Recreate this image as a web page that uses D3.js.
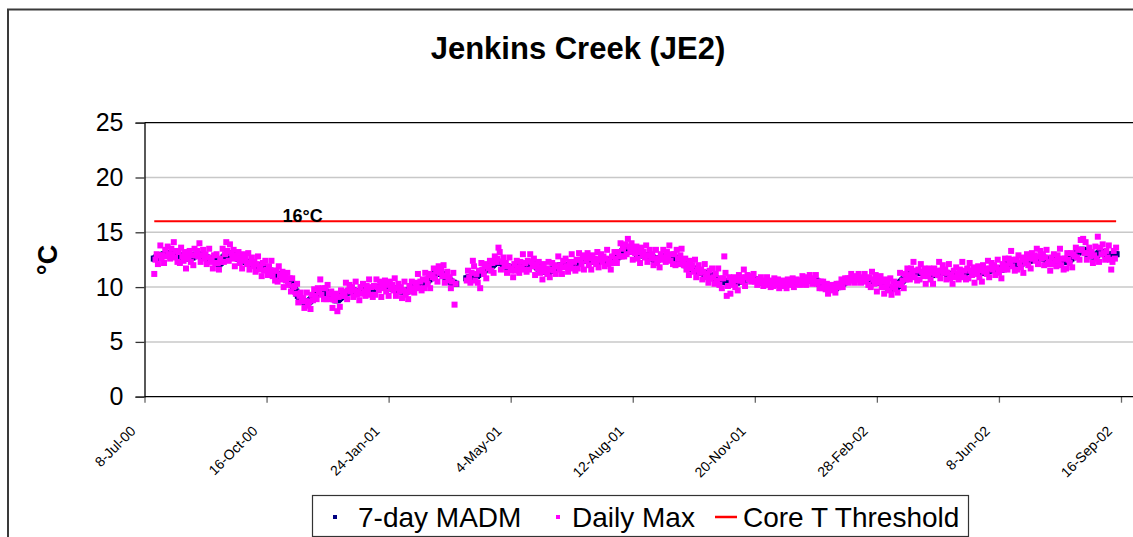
<!DOCTYPE html>
<html>
<head>
<meta charset="utf-8">
<script src="https://cdn.jsdelivr.net/npm/d3@7"></script>
<style>
  body { margin: 0; background: #fff; }
  svg { display: block; font-family: Arial, "Liberation Sans", sans-serif; }
</style>
</head>
<body>
<div id="chart"></div>
<script>
// ---- data ----
var firstDay = "2000-07-16";   // first logged day, one value per day after that
var tickDates = ["2000-07-08", "2000-10-16", "2001-01-24", "2001-05-04", "2001-08-12",
                 "2001-11-20", "2002-02-28", "2002-06-08", "2002-09-16"];
var tickLabels = ["8-Jul-00", "16-Oct-00", "24-Jan-01", "4-May-01", "12-Aug-01",
                  "20-Nov-01", "28-Feb-02", "8-Jun-02", "16-Sep-02"];
var yTicks = [0, 5, 10, 15, 20, 25];
var threshold = 16;
var seriesNames = ["7-day MADM", "Daily Max", "Core T Threshold"];

var madm = [
  12.6,12.6,12.7,12.7,12.8,12.9,12.9,12.9,13.0,13.0,
  13.0,13.0,13.0,13.1,13.1,13.1,13.1,13.1,13.1,13.0,
  12.9,12.8,12.8,12.7,12.7,12.7,12.6,12.7,12.7,12.7,
  12.7,12.7,12.8,12.9,12.9,13.0,13.0,12.9,12.9,12.8,
  12.8,12.7,12.7,12.7,12.6,12.6,12.6,12.5,12.5,12.5,
  12.4,12.3,12.2,12.1,12.2,12.4,12.5,12.7,12.8,12.9,
  13.0,13.0,13.1,13.0,12.9,12.9,12.8,12.7,12.7,12.6,
  12.6,12.5,12.5,12.4,12.4,12.3,12.3,12.2,12.2,12.1,
  12.1,12.0,12.0,12.0,12.0,11.9,11.9,11.9,11.8,11.8,
  11.7,11.7,11.6,11.6,11.5,11.5,11.4,11.4,11.3,11.3,
  11.2,11.1,11.1,11.0,11.0,10.9,10.9,10.8,10.7,10.7,
  10.6,10.6,10.4,10.2,10.0,9.8,9.6,9.4,9.2,9.1,
  8.9,8.8,8.7,8.7,8.6,8.6,8.6,8.7,8.8,8.9,
  9.0,9.1,9.2,9.4,9.5,9.6,9.7,9.7,9.7,9.6,
  9.6,9.5,9.4,9.3,9.2,9.1,9.0,8.9,8.9,8.8,
  8.8,8.9,9.0,9.1,9.2,9.3,9.4,9.5,9.5,9.6,
  9.6,9.7,9.7,9.7,9.6,9.6,9.6,9.6,9.6,9.6,
  9.6,9.6,9.6,9.7,9.7,9.7,9.7,9.7,9.8,9.8,
  9.8,9.9,9.9,9.9,10.0,10.0,10.0,10.0,10.0,10.0,
  10.0,10.0,10.0,9.9,9.9,9.9,9.9,9.9,9.8,9.8,
  9.7,9.7,9.7,9.6,9.6,9.6,9.6,9.6,9.7,9.7,
  9.8,9.8,9.9,10.0,10.0,10.1,10.2,10.3,10.3,10.4,
  10.4,10.5,10.5,10.6,10.6,10.7,10.8,10.9,11.0,11.1,
  11.2,11.2,11.3,11.3,11.3,11.2,11.2,11.1,11.0,10.9,
  10.8,10.7,10.6,10.5,10.4,10.4,10.3,10.3,
  null,null,null,null,null,null,null,null,
  10.8,10.8,10.9,10.9,10.9,10.9,10.9,11.0,11.0,11.1,
  11.2,11.3,11.4,11.5,11.5,11.6,11.7,11.7,11.8,11.8,
  11.9,12.0,12.1,12.2,12.3,12.3,12.3,12.3,12.2,12.2,
  12.1,12.0,11.9,11.9,11.8,11.8,11.8,11.7,11.7,11.7,
  11.7,11.7,11.8,11.8,11.9,11.9,12.0,12.0,12.0,12.1,
  12.1,12.2,12.2,12.2,12.2,12.1,12.0,11.9,11.8,11.7,
  11.7,11.6,11.5,11.5,11.4,11.4,11.4,11.4,11.5,11.5,
  11.6,11.6,11.7,11.8,11.8,11.9,11.9,12.0,12.0,12.0,
  12.0,11.9,11.9,11.9,11.9,12.0,12.0,12.1,12.1,12.2,
  12.2,12.3,12.3,12.4,12.4,12.4,12.5,12.5,12.5,12.5,
  12.4,12.4,12.4,12.3,12.3,12.3,12.3,12.3,12.4,12.4,
  12.4,12.4,12.5,12.5,12.5,12.5,12.4,12.4,12.4,12.4,
  12.4,12.5,12.6,12.7,12.8,12.9,13.0,13.2,13.3,13.5,
  13.6,13.6,13.6,13.6,13.5,13.5,13.4,13.3,13.2,13.1,
  13.0,13.0,13.0,13.0,12.9,12.9,12.9,12.9,12.9,12.8,
  12.8,12.7,12.7,12.6,12.5,12.5,12.5,12.6,12.6,12.6,
  12.7,12.7,12.7,12.8,12.8,12.8,12.8,12.8,12.8,12.8,
  12.7,12.6,12.6,12.5,12.4,12.4,12.3,12.2,12.1,12.0,
  12.0,11.9,11.9,11.8,11.7,11.7,11.6,11.6,11.5,11.5,
  11.4,11.4,11.3,11.3,11.3,11.2,11.2,11.2,11.2,11.1,
  11.0,11.0,10.9,10.8,10.8,10.7,10.7,10.6,10.6,10.6,
  10.5,10.5,10.5,10.5,10.4,10.4,10.3,10.3,10.3,10.3,
  10.4,10.4,10.5,10.5,10.6,10.6,10.7,10.7,10.7,10.8,
  10.8,10.8,10.8,10.8,10.7,10.7,10.7,10.6,10.6,10.5,
  10.5,10.5,10.5,10.4,10.4,10.4,10.4,10.4,10.4,10.4,
  10.4,10.4,10.4,10.3,10.4,10.4,10.4,10.4,10.4,10.3,
  10.3,10.3,10.3,10.4,10.3,10.3,10.3,10.3,10.3,10.4,
  10.4,10.4,10.4,10.5,10.5,10.5,10.5,10.6,10.6,10.7,
  10.7,10.7,10.7,10.6,10.6,10.6,10.6,10.5,10.4,10.3,
  10.3,10.2,10.1,10.1,10.0,10.0,9.9,9.9,9.9,9.9,
  9.9,9.9,9.9,10.0,10.0,10.1,10.1,10.2,10.3,10.4,
  10.5,10.6,10.6,10.7,10.7,10.7,10.8,10.8,10.8,10.8,
  10.8,10.8,10.8,10.7,10.7,10.7,10.7,10.7,10.7,10.6,
  10.6,10.6,10.6,10.6,10.6,10.6,10.5,10.5,10.5,10.4,
  10.4,10.3,10.2,10.1,10.0,10.0,9.9,9.9,9.9,9.9,
  9.9,9.9,10.0,10.1,10.2,10.4,10.5,10.6,10.7,10.8,
  10.9,11.0,11.1,11.2,11.3,11.3,11.3,11.3,11.3,11.3,
  11.3,11.3,11.3,11.3,11.3,11.2,11.2,11.2,11.1,11.1,
  11.1,11.1,11.1,11.1,11.2,11.2,11.3,11.4,11.4,11.4,
  11.4,11.4,11.3,11.3,11.2,11.2,11.1,11.1,11.1,11.1,
  11.1,11.1,11.2,11.2,11.2,11.2,11.3,11.3,11.3,11.4,
  11.4,11.4,11.4,11.4,11.4,11.3,11.3,11.3,11.3,11.3,
  11.3,11.3,11.3,11.4,11.4,11.4,11.4,11.5,11.5,11.6,
  11.6,11.7,11.7,11.7,11.7,11.6,11.6,11.6,11.6,11.7,
  11.8,11.9,12.0,12.1,12.2,12.3,12.3,12.3,12.3,12.2,
  12.2,12.2,12.1,12.1,12.1,12.2,12.2,12.3,12.3,12.4,
  12.4,12.4,12.5,12.5,12.6,12.6,12.6,12.6,12.7,12.7,
  12.7,12.7,12.7,12.6,12.6,12.5,12.4,12.3,12.3,12.3,
  12.3,12.3,12.4,12.4,12.5,12.5,12.5,12.4,12.4,12.3,
  12.3,12.3,12.3,12.4,12.5,12.6,12.7,12.8,12.9,13.0,
  13.1,13.2,13.3,13.4,13.4,13.4,13.3,13.2,13.1,13.0,
  13.0,12.9,12.9,12.8,12.8,12.8,12.9,13.0,13.1,13.2,
  13.2,13.2,13.1,13.0,12.9,12.8,12.8,12.9,12.9,13.0,
  13.0,13.0,13.0
];

var dailyMax = [
  11.2,12.5,13.0,12.1,12.9,13.8,12.6,12.9,12.2,13.4,
  12.8,13.7,13.0,12.6,13.5,13.0,14.1,12.7,13.3,12.3,
  13.2,12.2,13.6,12.8,12.4,13.2,11.7,12.9,12.6,13.3,
  12.3,12.9,12.0,13.5,12.9,13.3,12.8,14.0,12.3,12.9,
  13.4,12.6,13.0,12.1,12.7,13.5,12.3,12.5,11.7,12.9,
  12.2,13.0,12.2,11.6,12.6,12.3,13.5,12.3,13.0,14.1,
  13.3,12.4,13.9,13.1,12.6,13.4,11.9,12.9,12.6,13.2,
  12.2,12.7,11.7,13.0,12.4,12.6,12.1,13.1,11.6,12.2,
  12.7,11.9,12.3,11.4,12.1,12.8,11.6,11.9,11.0,12.2,
  11.5,12.4,11.6,11.1,11.9,11.4,12.4,11.0,11.5,10.6,
  11.5,10.5,11.9,11.1,10.7,11.4,10.0,11.0,10.6,11.3,
  10.2,10.8,9.6,10.8,10.0,10.1,9.4,10.3,8.6,9.2,
  9.5,8.7,9.0,8.1,8.7,9.5,8.3,8.7,8.0,9.3,
  8.8,9.8,9.2,8.9,9.9,9.5,10.7,9.3,9.9,8.9,
  9.9,8.9,10.2,9.4,8.9,9.6,8.1,9.1,8.8,9.4,
  7.8,9.1,8.2,9.7,9.2,9.6,9.2,10.4,8.9,9.7,
  10.2,9.6,10.0,9.1,9.7,10.5,9.3,9.6,8.8,10.0,
  9.4,10.3,9.6,9.2,10.1,9.6,10.7,9.3,10.0,9.1,
  10.1,9.3,10.7,10.0,9.7,10.5,9.1,10.2,9.9,10.6,
  9.6,10.2,9.2,10.5,9.9,10.2,9.7,10.8,9.2,9.9,
  10.3,9.6,10.0,9.0,9.7,10.5,9.3,9.6,8.9,10.1,
  9.6,10.5,9.9,9.5,10.4,10.0,11.2,9.9,10.5,9.7,
  10.7,9.9,11.3,10.7,10.3,11.2,9.9,11.1,10.9,11.7,
  10.8,11.4,10.5,11.9,11.3,11.5,11.0,12.0,10.4,11.0,
  11.4,10.6,10.9,9.9,10.5,11.3,8.4,10.3,
  null,null,null,null,null,null,null,null,
  10.6,11.5,10.9,10.4,11.3,12.4,11.9,10.6,11.2,10.4,
  11.5,9.9,12.2,11.6,11.2,12.1,10.8,11.9,11.7,12.4,
  11.5,12.2,11.3,12.8,12.3,12.6,13.6,13.2,11.6,12.3,
  12.7,11.9,12.2,11.3,11.9,12.7,11.5,11.7,10.9,12.1,
  11.5,12.4,11.8,11.3,12.3,11.8,13.0,11.6,12.2,11.4,
  12.4,11.6,13.0,12.3,11.9,12.6,11.1,12.1,11.7,12.3,
  11.3,11.8,10.7,12.1,11.4,11.7,11.2,12.3,10.9,11.6,
  12.2,11.5,12.0,11.2,11.9,12.8,11.6,12.0,11.2,12.4,
  11.8,12.6,11.9,11.4,12.3,11.9,13.0,11.7,12.3,11.5,
  12.5,11.7,13.1,12.5,12.1,12.9,11.6,12.7,12.4,13.1,
  12.0,12.6,11.6,12.9,12.3,12.6,12.1,13.2,11.8,12.5,
  13.0,12.3,12.8,11.9,12.6,13.4,12.1,12.4,11.6,12.8,
  12.2,13.2,12.6,12.2,13.2,12.8,14.0,12.8,13.5,12.8,
  13.9,13.0,14.4,13.7,13.2,14.0,12.5,13.5,13.1,13.7,
  12.6,13.2,12.2,13.6,12.9,13.2,12.7,13.8,12.3,12.9,
  13.4,12.6,13.0,12.0,12.6,13.4,12.2,12.6,11.8,13.0,
  12.5,13.4,12.7,12.3,13.2,12.7,13.8,12.4,13.0,12.1,
  13.0,12.0,13.4,12.6,12.1,12.9,13.5,12.4,12.0,12.6,
  11.6,12.1,11.1,12.4,11.7,12.0,11.4,12.5,10.9,11.6,
  12.0,11.3,11.6,10.7,11.4,12.1,10.9,11.2,10.4,11.5,
  10.8,11.7,10.9,10.3,11.2,10.6,11.7,10.2,10.8,9.9,
  10.8,12.8,11.3,9.2,10.1,10.9,9.4,10.5,10.2,10.9,
  10.0,10.6,9.7,11.1,10.6,10.9,10.5,11.6,10.1,10.9,
  11.1,10.7,11.0,10.5,10.8,11.2,10.5,10.6,10.2,10.7,
  10.4,10.9,10.5,10.1,10.6,10.3,10.9,10.2,10.5,10.0,
  10.6,10.1,10.8,10.4,10.2,10.7,9.9,10.5,10.3,10.6,
  10.1,10.4,9.9,10.7,10.3,10.5,10.2,10.8,10.0,10.5,
  10.7,10.3,10.6,10.2,10.6,11.0,10.3,10.6,10.2,10.9,
  10.6,11.1,10.7,10.3,10.8,10.5,11.1,10.3,10.5,9.9,
  10.5,9.9,10.5,10.2,9.8,10.3,9.4,10.0,9.8,10.2,
  9.7,10.0,9.5,10.3,10.0,10.3,10.0,10.7,10.0,10.5,
  10.8,10.5,10.8,10.4,10.8,11.2,10.6,10.8,10.4,11.0,
  10.7,11.2,10.8,10.4,10.9,10.6,11.2,10.5,10.8,10.2,
  10.9,10.0,11.4,10.7,10.3,11.1,9.6,10.7,10.4,11.0,
  10.0,10.5,9.4,10.7,10.0,10.3,9.7,10.8,9.3,10.0,
  10.5,9.8,10.3,9.5,10.3,11.3,10.2,10.6,9.9,11.2,
  10.7,11.7,11.1,10.7,11.7,11.2,12.3,10.9,11.5,10.6,
  11.6,10.7,12.1,11.4,11.0,11.7,10.3,11.4,11.0,11.7,
  10.7,11.3,10.3,11.7,11.2,11.5,11.1,12.3,10.8,11.5,
  12.0,11.3,11.6,10.7,11.3,12.1,10.8,11.1,10.3,11.5,
  10.9,11.8,11.2,10.7,11.6,11.1,12.3,10.9,11.5,10.7,
  11.7,10.8,12.2,11.5,11.1,11.8,10.4,11.5,11.2,11.9,
  10.9,11.5,10.5,12.0,11.4,11.7,11.2,12.4,10.9,11.7,
  12.2,11.6,12.0,11.1,11.8,12.5,11.3,11.6,10.8,12.1,
  11.6,12.6,12.0,11.6,12.6,12.2,13.3,11.9,12.5,11.5,
  12.5,11.6,12.9,12.2,11.8,12.7,11.3,12.5,12.2,13.0,
  12.0,12.6,11.7,13.1,12.6,12.9,12.4,13.5,12.1,12.8,
  13.3,12.6,13.0,12.0,12.7,13.4,12.1,12.3,11.5,12.7,
  12.1,13.0,12.4,11.9,12.9,12.4,13.5,12.0,12.6,11.6,
  12.6,11.7,13.1,12.5,12.2,13.1,11.8,13.0,12.8,13.6,
  12.7,13.4,12.5,14.3,13.4,14.4,13.1,14.1,12.5,13.1,
  13.6,12.8,13.2,12.2,12.9,13.7,12.6,14.6,12.3,13.6,
  13.0,13.9,13.1,12.5,13.3,12.7,13.8,12.5,11.6,12.3,
  13.3,12.6,13.6
];

// ---- layout ----
var W = 1133, H = 537;
var plotLeft = 144.5, plotTop = 122.7, plotBottom = 396.7, plotRight = 1140;

var parse = d3.utcParse("%Y-%m-%d");
var day0 = parse(firstDay);
var days = madm.map(function (d, i) { return d3.utcDay.offset(day0, i); });

var svg = d3.select("#chart")
  .append("svg")
    .attr("width", W)
    .attr("height", H);

svg.append("rect").attr("width", W).attr("height", H).attr("fill", "#fff");

// outer chart frame (runs off the right / bottom edge in the reference)
svg.append("rect")
    .attr("x", 8).attr("y", 9.5)
    .attr("width", W + 20).attr("height", H + 20)
    .attr("fill", "none")
    .attr("stroke", "#3a3a3a")
    .attr("stroke-width", 2);

var x = d3.scaleUtc()
  .domain([parse(tickDates[0]), parse(tickDates[tickDates.length - 1])])
  .range([plotLeft, 1121]);

var y = d3.scaleLinear()
  .domain([0, 25])
  .range([plotBottom, plotTop]);

// title
svg.append("text")
    .attr("x", 578).attr("y", 59)
    .attr("text-anchor", "middle")
    .attr("font-size", 31).attr("font-weight", "bold")
    .text("Jenkins Creek (JE2)");

// gridlines
svg.append("g")
  .selectAll("line")
  .data(yTicks.slice(1, -1))
  .enter()
  .append("line")
    .attr("x1", plotLeft).attr("x2", plotRight)
    .attr("y1", function (d) { return y(d); })
    .attr("y2", function (d) { return y(d); })
    .attr("stroke", "#c8c8c8")
    .attr("stroke-width", 1.5);

// plot top border
svg.append("line")
    .attr("x1", plotLeft).attr("x2", plotRight)
    .attr("y1", plotTop).attr("y2", plotTop)
    .attr("stroke", "#000").attr("stroke-width", 1.3);

// y axis
var yAxis = svg.append("g")
    .attr("transform", "translate(" + plotLeft + ",0)")
    .call(d3.axisLeft(y).tickValues(yTicks).tickSize(9).tickPadding(12));
yAxis.select(".domain").attr("stroke", "#000").attr("stroke-width", 1.3);
yAxis.selectAll(".tick line").attr("stroke", "#333").attr("stroke-width", 1.3);
yAxis.selectAll(".tick text")
    .attr("font-size", 25)
    .attr("font-family", "Arial, 'Liberation Sans', sans-serif")
    .attr("fill", "#000");

svg.append("text")
    .attr("transform", "translate(57,260) rotate(-90)")
    .attr("text-anchor", "middle")
    .attr("font-size", 27).attr("font-weight", "bold")
    .text("°C");

// x axis
var xAxis = svg.append("g")
    .attr("transform", "translate(0," + plotBottom + ")")
    .call(d3.axisBottom(x)
      .tickValues(tickDates.map(parse))
      .tickSize(6)
      .tickFormat(function (d, i) { return tickLabels[i]; }));
xAxis.select(".domain").remove();
xAxis.append("line")
    .attr("x1", plotLeft).attr("x2", plotRight)
    .attr("stroke", "#000").attr("stroke-width", 1.3);
xAxis.selectAll(".tick line").attr("stroke", "#666").attr("stroke-width", 1.3);
xAxis.selectAll(".tick text")
    .attr("font-size", 14)
    .attr("font-family", "Arial, 'Liberation Sans', sans-serif")
    .attr("fill", "#000")
    .attr("text-anchor", "end")
    .attr("x", -31).attr("y", 14).attr("dy", "0.35em")
    .attr("transform", "rotate(-45)");

// 7-day MADM
svg.append("g")
  .selectAll("rect")
  .data(madm.map(function (v, i) { return { date: days[i], value: v }; })
            .filter(function (d) { return d.value != null; }))
  .enter()
  .append("rect")
    .attr("x", function (d) { return x(d.date) - 3.5; })
    .attr("y", function (d) { return y(d.value) - 3; })
    .attr("width", 7).attr("height", 6)
    .attr("fill", "#000080");

// Daily max
svg.append("g")
  .selectAll("rect")
  .data(dailyMax.map(function (v, i) { return { date: days[i], value: v }; })
                .filter(function (d) { return d.value != null; }))
  .enter()
  .append("rect")
    .attr("x", function (d) { return x(d.date) - 3; })
    .attr("y", function (d) { return y(d.value) - 3; })
    .attr("width", 6).attr("height", 6)
    .attr("fill", "#ff00ff");

// threshold line
svg.append("line")
    .attr("x1", x(days[0])).attr("x2", x(days[days.length - 1]))
    .attr("y1", y(threshold)).attr("y2", y(threshold))
    .attr("stroke", "#ff0000").attr("stroke-width", 2);

svg.append("text")
    .attr("x", x(parse("2000-10-29"))).attr("y", y(threshold) + 0.5)
    .attr("font-size", 18).attr("font-weight", "bold")
    .text(threshold + "°C");

// legend
var legend = svg.append("g");
legend.append("rect")
    .attr("x", 312.5).attr("y", 495.5)
    .attr("width", 656).attr("height", 41)
    .attr("fill", "#fff").attr("stroke", "#333").attr("stroke-width", 1.2);

legend.append("rect").attr("x", 333).attr("y", 515).attr("width", 4).attr("height", 4).attr("fill", "#000080");
legend.append("rect").attr("x", 556).attr("y", 515).attr("width", 4).attr("height", 4).attr("fill", "#ff00ff");
legend.append("line")
    .attr("x1", 715).attr("x2", 737).attr("y1", 517).attr("y2", 517)
    .attr("stroke", "#ff0000").attr("stroke-width", 2.5);

var legendX = [358, 572, 743];
legend.selectAll("text.lg")
  .data(seriesNames)
  .enter()
  .append("text")
    .attr("class", "lg")
    .attr("x", function (d, i) { return legendX[i]; })
    .attr("y", 527)
    .attr("font-size", 28)
    .text(function (d) { return d; });
</script>
</body>
</html>
